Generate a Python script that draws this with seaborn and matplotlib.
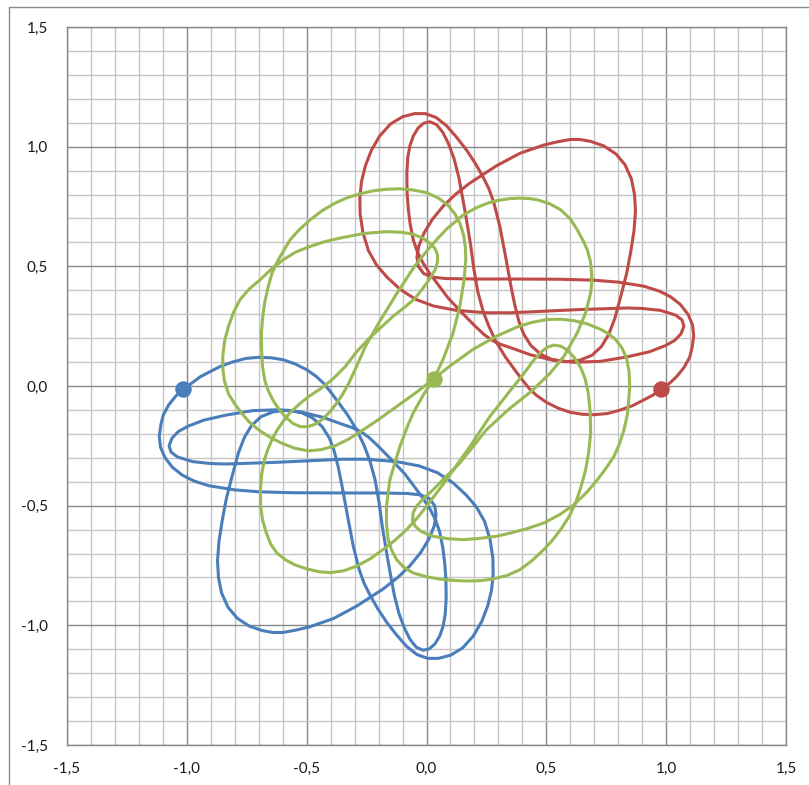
import matplotlib
matplotlib.use("Agg")
import matplotlib.pyplot as plt
from matplotlib.ticker import MultipleLocator, FuncFormatter
from matplotlib.lines import Line2D
import pandas as pd
import seaborn as sns

# ---- orbit of body 1 (red) ----
red_x = [0.978, 0.945, 0.907, 0.860, 0.810, 0.755, 0.700, 0.650, 0.600, 0.550,
         0.500, 0.460, 0.430, 0.400, 0.370, 0.330, 0.290, 0.260, 0.237, 0.215,
         0.198, 0.184, 0.167, 0.150, 0.134, 0.115, 0.092, 0.068, 0.042, 0.014,
         -0.012, -0.035, -0.055, -0.069, -0.078, -0.082, -0.081, -0.076, -0.068, -0.055,
         -0.038, -0.015, 0.012, 0.045, 0.090, 0.146, 0.201, 0.240, 0.275, 0.310,
         0.351, 0.435, 0.518, 0.615, 0.726, 0.838, 0.930, 0.995, 1.035, 1.062,
         1.074, 1.066, 1.040, 0.976, 0.900, 0.838, 0.629, 0.351, 0.250, 0.125,
         0.030, -0.045, -0.110, -0.165, -0.208, -0.242, -0.265, -0.277, -0.278, -0.271,
         -0.255, -0.230, -0.195, -0.150, -0.100, -0.050, -0.005, 0.040, 0.083, 0.125,
         0.167, 0.205, 0.236, 0.260, 0.280, 0.306, 0.330, 0.352, 0.368, 0.385,
         0.405, 0.435, 0.476, 0.525, 0.580, 0.640, 0.690, 0.730, 0.760, 0.785,
         0.812, 0.835, 0.852, 0.866, 0.872, 0.868, 0.855, 0.828, 0.790, 0.740,
         0.685, 0.640, 0.600, 0.545, 0.490, 0.389, 0.292, 0.181, 0.120, 0.070,
         0.025, -0.010, -0.032, -0.040, -0.034, -0.012, 0.025, 0.080, 0.200, 0.350,
         0.560, 0.700, 0.800, 0.907, 0.970, 1.018, 1.060, 1.092, 1.110, 1.115,
         1.108, 1.098, 1.075, 1.046, 1.015, 0.978]
red_y = [-0.013, -0.038, -0.058, -0.082, -0.100, -0.115, -0.120, -0.118, -0.110, -0.093,
         -0.068, -0.040, -0.012, 0.025, 0.065, 0.120, 0.185, 0.250, 0.310, 0.390,
         0.486, 0.590, 0.694, 0.790, 0.875, 0.950, 1.012, 1.060, 1.092, 1.104,
         1.098, 1.078, 1.045, 1.005, 0.955, 0.890, 0.806, 0.740, 0.675, 0.610,
         0.560, 0.515, 0.473, 0.428, 0.368, 0.308, 0.252, 0.215, 0.190, 0.174,
         0.160, 0.130, 0.110, 0.099, 0.103, 0.122, 0.143, 0.168, 0.190, 0.218,
         0.250, 0.276, 0.296, 0.316, 0.324, 0.326, 0.319, 0.306, 0.306, 0.316,
         0.334, 0.362, 0.404, 0.455, 0.505, 0.565, 0.640, 0.720, 0.790, 0.855,
         0.920, 0.985, 1.045, 1.095, 1.125, 1.138, 1.138, 1.122, 1.088, 1.040,
         0.986, 0.928, 0.873, 0.825, 0.770, 0.667, 0.540, 0.420, 0.340, 0.272,
         0.218, 0.170, 0.133, 0.110, 0.101, 0.108, 0.128, 0.165, 0.215, 0.280,
         0.380, 0.470, 0.560, 0.650, 0.730, 0.800, 0.865, 0.925, 0.970, 1.003,
         1.022, 1.030, 1.030, 1.020, 1.007, 0.972, 0.920, 0.848, 0.800, 0.752,
         0.697, 0.640, 0.585, 0.540, 0.500, 0.470, 0.455, 0.449, 0.447, 0.447,
         0.446, 0.442, 0.434, 0.417, 0.397, 0.373, 0.340, 0.298, 0.255, 0.210,
         0.160, 0.120, 0.078, 0.042, 0.012, -0.013]

# ---- orbit of body 2 (blue) ----
blue_x = [-1.016,
          -0.978, -0.945, -0.907, -0.860, -0.810, -0.755, -0.700, -0.650, -0.600, -0.550,
          -0.500, -0.460, -0.430, -0.400, -0.370, -0.330, -0.290, -0.260, -0.237, -0.215,
          -0.198, -0.184, -0.167, -0.150, -0.134, -0.115, -0.092, -0.068, -0.042, -0.014,
          0.012, 0.035, 0.055, 0.069, 0.078, 0.082, 0.081, 0.076, 0.068, 0.055,
          0.038, 0.015, -0.012, -0.045, -0.090, -0.146, -0.201, -0.240, -0.275, -0.310,
          -0.351, -0.435, -0.518, -0.615, -0.726, -0.838, -0.930, -0.995, -1.035, -1.062,
          -1.074, -1.066, -1.040, -0.976, -0.900, -0.838, -0.629, -0.351, -0.250, -0.125,
          -0.030, 0.045, 0.110, 0.165, 0.208, 0.242, 0.265, 0.277, 0.278, 0.271,
          0.255, 0.230, 0.195, 0.150, 0.100, 0.050, 0.005, -0.040, -0.083, -0.125,
          -0.167, -0.205, -0.236, -0.260, -0.280, -0.306, -0.330, -0.352, -0.368, -0.385,
          -0.405, -0.435, -0.476, -0.525, -0.580, -0.640, -0.690, -0.730, -0.760, -0.785,
          -0.812, -0.835, -0.852, -0.866, -0.872, -0.868, -0.855, -0.828, -0.790, -0.740,
          -0.685, -0.640, -0.600, -0.545, -0.490, -0.389, -0.292, -0.181, -0.120, -0.070,
          -0.025, 0.010, 0.032, 0.040, 0.034, 0.012, -0.025, -0.080, -0.200, -0.350,
          -0.560, -0.700, -0.800, -0.907, -0.970, -1.018, -1.060, -1.092, -1.110, -1.115,
          -1.108, -1.098, -1.075, -1.046,
          -1.016]
blue_y = [-0.013,
          0.013, 0.038, 0.058, 0.082, 0.100, 0.115, 0.120, 0.118, 0.110, 0.093,
          0.068, 0.040, 0.012, -0.025, -0.065, -0.120, -0.185, -0.250, -0.310, -0.390,
          -0.486, -0.590, -0.694, -0.790, -0.875, -0.950, -1.012, -1.060, -1.092, -1.104,
          -1.098, -1.078, -1.045, -1.005, -0.955, -0.890, -0.806, -0.740, -0.675, -0.610,
          -0.560, -0.515, -0.473, -0.428, -0.368, -0.308, -0.252, -0.215, -0.190, -0.174,
          -0.160, -0.130, -0.110, -0.099, -0.103, -0.122, -0.143, -0.168, -0.190, -0.218,
          -0.250, -0.276, -0.296, -0.316, -0.324, -0.326, -0.319, -0.306, -0.306, -0.316,
          -0.334, -0.362, -0.404, -0.455, -0.505, -0.565, -0.640, -0.720, -0.790, -0.855,
          -0.920, -0.985, -1.045, -1.095, -1.125, -1.138, -1.138, -1.122, -1.088, -1.040,
          -0.986, -0.928, -0.873, -0.825, -0.770, -0.667, -0.540, -0.420, -0.340, -0.272,
          -0.218, -0.170, -0.133, -0.110, -0.101, -0.108, -0.128, -0.165, -0.215, -0.280,
          -0.380, -0.470, -0.560, -0.650, -0.730, -0.800, -0.865, -0.925, -0.970, -1.003,
          -1.022, -1.030, -1.030, -1.020, -1.007, -0.972, -0.920, -0.848, -0.800, -0.752,
          -0.697, -0.640, -0.585, -0.540, -0.500, -0.470, -0.455, -0.449, -0.447, -0.447,
          -0.446, -0.442, -0.434, -0.417, -0.397, -0.373, -0.340, -0.298, -0.255, -0.210,
          -0.160, -0.120, -0.078, -0.042,
          -0.013]

# ---- orbit of body 3 (green) ----
green_x = [0.031, 0.050, 0.069, 0.111, 0.139, 0.157, 0.164, 0.162, 0.155, 0.139,
           0.118, 0.090, 0.050, 0.000, -0.056, -0.110, -0.167, -0.225, -0.278, -0.330,
           -0.380, -0.435, -0.486, -0.530, -0.569, -0.618, -0.645, -0.660, -0.675, -0.683,
           -0.689, -0.688, -0.684, -0.674, -0.660, -0.640, -0.615, -0.585, -0.555, -0.525,
           -0.495, -0.465, -0.435, -0.405, -0.375, -0.350, -0.325, -0.295, -0.255, -0.200,
           -0.125, -0.050, 0.010, 0.050, 0.083, 0.150, 0.208, 0.255, 0.300, 0.350,
           0.389, 0.430, 0.463, 0.515, 0.560, 0.600, 0.629, 0.652, 0.671, 0.684,
           0.689, 0.689, 0.685, 0.664, 0.629, 0.574, 0.518, 0.440, 0.340, 0.250,
           0.139, 0.070, 0.028, -0.015, -0.042, -0.056, -0.058, -0.048, -0.025, 0.000,
           0.028, 0.090, 0.153, 0.220, 0.292, 0.351, 0.420, 0.490, 0.555, 0.615,
           0.668, 0.713, 0.750, 0.782, 0.806, 0.824, 0.838, 0.844, 0.848, 0.845,
           0.835, 0.815, 0.790, 0.760, 0.726, 0.670, 0.615, 0.560, 0.504, 0.440,
           0.379, 0.292, 0.194, 0.097, 0.031, -0.040, -0.125, -0.200, -0.264, -0.325,
           -0.382, -0.440, -0.493, -0.550, -0.604, -0.655, -0.701, -0.740, -0.771, -0.800,
           -0.825, -0.843, -0.850, -0.850, -0.842, -0.826, -0.805, -0.778, -0.740, -0.694,
           -0.648, -0.597, -0.545, -0.486, -0.425, -0.361, -0.264, -0.167, -0.100, -0.056,
           -0.015, 0.014, 0.035, 0.046, 0.046, 0.038, 0.020, 0.007, -0.020, -0.049,
           -0.090, -0.135, -0.190, -0.240, -0.290, -0.340, -0.390, -0.440, -0.490, -0.530,
           -0.570, -0.600, -0.625, -0.645, -0.662, -0.676, -0.688, -0.693, -0.692, -0.684,
           -0.668, -0.650, -0.625, -0.590, -0.550, -0.500, -0.450, -0.400, -0.345, -0.292,
           -0.235, -0.181, -0.130, -0.083, -0.040, 0.000, 0.083, 0.181, 0.264, 0.337,
           0.407, 0.445, 0.476, 0.503, 0.532, 0.562, 0.590, 0.617, 0.643, 0.662,
           0.675, 0.683, 0.685, 0.677, 0.664, 0.645, 0.622, 0.595, 0.560, 0.525,
           0.490, 0.440, 0.389, 0.335, 0.278, 0.230, 0.181, 0.120, 0.056, 0.000,
           -0.056, -0.095, -0.125, -0.146, -0.160, -0.167, -0.167, -0.153, -0.111, -0.080,
           -0.056, -0.015, 0.031]
green_y = [0.031, 0.070, 0.111, 0.222, 0.333, 0.444, 0.528, 0.580, 0.630, 0.681,
           0.720, 0.755, 0.785, 0.808, 0.819, 0.824, 0.822, 0.815, 0.803, 0.787,
           0.765, 0.733, 0.694, 0.654, 0.611, 0.528, 0.470, 0.417, 0.350, 0.292,
           0.220, 0.153, 0.080, 0.020, -0.020, -0.060, -0.098, -0.133, -0.158, -0.170,
           -0.170, -0.160, -0.140, -0.110, -0.072, -0.035, 0.010, 0.075, 0.165, 0.262,
           0.385, 0.500, 0.575, 0.620, 0.655, 0.712, 0.745, 0.764, 0.776, 0.783,
           0.785, 0.783, 0.778, 0.761, 0.736, 0.698, 0.653, 0.610, 0.569, 0.520,
           0.472, 0.430, 0.389, 0.306, 0.222, 0.125, 0.056, -0.020, -0.100, -0.183,
           -0.322, -0.390, -0.433, -0.473, -0.503, -0.530, -0.560, -0.585, -0.606, -0.618,
           -0.628, -0.638, -0.642, -0.637, -0.628, -0.614, -0.596, -0.572, -0.538, -0.496,
           -0.445, -0.392, -0.342, -0.294, -0.240, -0.183, -0.120, -0.058, 0.000, 0.060,
           0.115, 0.160, 0.193, 0.218, 0.237, 0.260, 0.273, 0.279, 0.278, 0.266,
           0.247, 0.208, 0.153, 0.083, 0.031, -0.025, -0.086, -0.140, -0.183, -0.222,
           -0.250, -0.266, -0.271, -0.260, -0.239, -0.213, -0.183, -0.150, -0.114, -0.075,
           -0.035, 0.020, 0.075, 0.125, 0.190, 0.250, 0.308, 0.361, 0.405, 0.444,
           0.488, 0.528, 0.560, 0.583, 0.603, 0.618, 0.637, 0.645, 0.642, 0.634,
           0.618, 0.597, 0.575, 0.548, 0.520, 0.490, 0.458, 0.438, 0.402, 0.365,
           0.330, 0.295, 0.245, 0.198, 0.145, 0.080, 0.030, -0.010, -0.043, -0.075,
           -0.112, -0.150, -0.187, -0.225, -0.265, -0.308, -0.370, -0.440, -0.503, -0.560,
           -0.615, -0.660, -0.697, -0.725, -0.747, -0.764, -0.776, -0.780, -0.772, -0.753,
           -0.722, -0.683, -0.643, -0.600, -0.553, -0.503, -0.392, -0.253, -0.128, -0.035,
           0.053, 0.105, 0.140, 0.162, 0.171, 0.166, 0.148, 0.118, 0.078, 0.030,
           -0.030, -0.110, -0.197, -0.275, -0.350, -0.420, -0.489, -0.545, -0.600, -0.645,
           -0.683, -0.730, -0.768, -0.792, -0.806, -0.813, -0.815, -0.813, -0.807, -0.797,
           -0.781, -0.757, -0.725, -0.685, -0.642, -0.575, -0.503, -0.392, -0.253, -0.170,
           -0.114, -0.040, 0.031]

# current positions of the three bodies
body_names = ["Blue", "Red", "Green"]
pos_x = [-1.016, 0.978, 0.031]
pos_y = [-0.013, -0.013, 0.031]

palette = {"Blue": "#4A7EBB", "Red": "#BE4B48", "Green": "#98B954"}

orbits = pd.concat([
    pd.DataFrame({"x": blue_x, "y": blue_y, "body": "Blue"}),
    pd.DataFrame({"x": red_x, "y": red_y, "body": "Red"}),
    pd.DataFrame({"x": green_x, "y": green_y, "body": "Green"}),
], ignore_index=True)
positions = pd.DataFrame({"x": pos_x, "y": pos_y, "body": body_names})

sns.set_style("white")
plt.rcParams["font.family"] = ["Lato", "DejaVu Sans"]

W, H = 809, 785
fig = plt.figure(figsize=(W / 100, H / 100), dpi=100)
fig.patch.set_facecolor("white")

# outer chart frame
fig.add_artist(Line2D([9 / W, 9 / W], [0, 1 - 7 / H], transform=fig.transFigure,
                      color="#8c8c8c", lw=1.0))
fig.add_artist(Line2D([9 / W, 1], [1 - 7 / H, 1 - 7 / H], transform=fig.transFigure,
                      color="#8c8c8c", lw=1.0))

left, right, top, bottom = 67, 786, 27, 745
ax = fig.add_axes([left / W, 1 - bottom / H, (right - left) / W, (bottom - top) / H])

for name in body_names:
    sns.lineplot(data=orbits[orbits["body"] == name], x="x", y="y", sort=False,
                 estimator=None, color=palette[name], lw=2.2, ax=ax, zorder=3,
                 legend=False)
    sns.scatterplot(data=positions[positions["body"] == name], x="x", y="y",
                    color=palette[name], s=120, edgecolor=palette[name], ax=ax,
                    zorder=4, legend=False)

ax.set_xlim(-1.5, 1.5)
ax.set_ylim(-1.5, 1.5)
ax.xaxis.set_major_locator(MultipleLocator(0.5))
ax.yaxis.set_major_locator(MultipleLocator(0.5))
ax.xaxis.set_minor_locator(MultipleLocator(0.1))
ax.yaxis.set_minor_locator(MultipleLocator(0.1))
ax.grid(which="minor", color="#c6c6c6", lw=1.0, zorder=0)
ax.grid(which="major", color="#878787", lw=1.0, zorder=1)
ax.set_axisbelow(True)

fmt = FuncFormatter(lambda v, p: ("%.1f" % (0.0 if abs(v) < 1e-9 else v)).replace(".", ","))
ax.xaxis.set_major_formatter(fmt)
ax.yaxis.set_major_formatter(fmt)
ax.tick_params(which="both", length=0, labelsize=11, colors="#1a1a1a")
ax.tick_params(axis="x", pad=12)
ax.tick_params(axis="y", pad=14)
for s in ax.spines.values():
    s.set_color("#878787")
    s.set_linewidth(1.0)
ax.set_xlabel("")
ax.set_ylabel("")

fig.savefig("out.png", dpi=100, facecolor="white")
